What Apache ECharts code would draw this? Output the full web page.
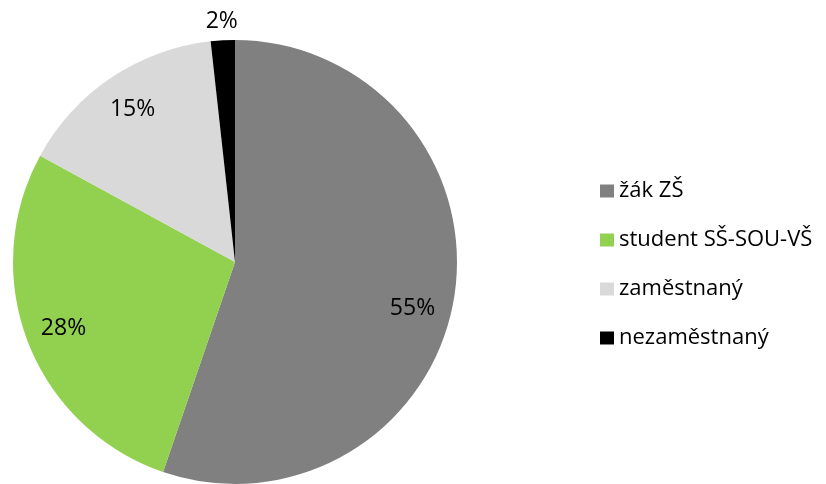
<!DOCTYPE html>
<html>
<head>
<meta charset="utf-8">
<script src="https://cdn.jsdelivr.net/npm/echarts@6/dist/echarts.min.js"></script>
<style>
  html, body { margin: 0; padding: 0; background: #fff; }
  #chart { width: 826px; height: 484px; }
</style>
</head>
<body>
<div id="chart"></div>
<script>
var categories = ['žák ZŠ', 'student SŠ-SOU-VŠ', 'zaměstnaný', 'nezaměstnaný'];
var values = [55.25, 27.7, 15.3, 1.75];
var colors = ['#808080', '#92D050', '#D9D9D9', '#000000'];

var font = 'Open Sans';
var center = [235, 262];
var chart = echarts.init(document.getElementById('chart'));

// pie labels: inner ones sit at ~0.8 r, the tiny slice gets its label above the pie
function pct(p) { return Math.round(p.percent) + '%'; }

var mainData = [];
var innerLabels = [];
var outerLabels = [];
for (var i = 0; i < categories.length; i++) {
  var small = values[i] < 5;
  mainData.push({ name: categories[i], value: values[i], itemStyle: { color: colors[i] } });
  var item = { name: categories[i], value: values[i], label: { show: !small } };
  if (i === 0) item.label.offset = [-4, 16];
  innerLabels.push(item);
  outerLabels.push({ name: categories[i], value: values[i], label: { show: small } });
}

var labelStyle = {
  position: 'inside',
  formatter: pct,
  fontFamily: font,
  fontSize: 23,
  color: '#000'
};

var option = {
  animation: false,
  backgroundColor: '#fff',
  legend: {
    orient: 'vertical',
    left: 595,
    top: 175,
    itemWidth: 14,
    itemHeight: 13,
    itemGap: 27,
    icon: 'rect',
    data: categories,
    textStyle: { fontFamily: font, fontSize: 22, lineHeight: 22, color: '#000', padding: [0, 0, 0, 0] }
  },
  series: [
    {
      type: 'pie',
      center: center,
      radius: [0, 222],
      startAngle: 90,
      clockwise: true,
      legendHoverLink: false,
      label: { show: false },
      labelLine: { show: false },
      data: mainData
    },
    {
      type: 'pie',
      center: center,
      radius: [0, 362],
      startAngle: 90,
      clockwise: true,
      silent: true,
      itemStyle: { color: 'rgba(0,0,0,0)' },
      label: labelStyle,
      labelLine: { show: false },
      data: innerLabels
    },
    {
      type: 'pie',
      center: center,
      radius: [0, 476],
      startAngle: 90,
      clockwise: true,
      silent: true,
      itemStyle: { color: 'rgba(0,0,0,0)' },
      label: labelStyle,
      labelLine: { show: false },
      data: outerLabels
    }
  ]
};
chart.setOption(option);
</script>
</body>
</html>
